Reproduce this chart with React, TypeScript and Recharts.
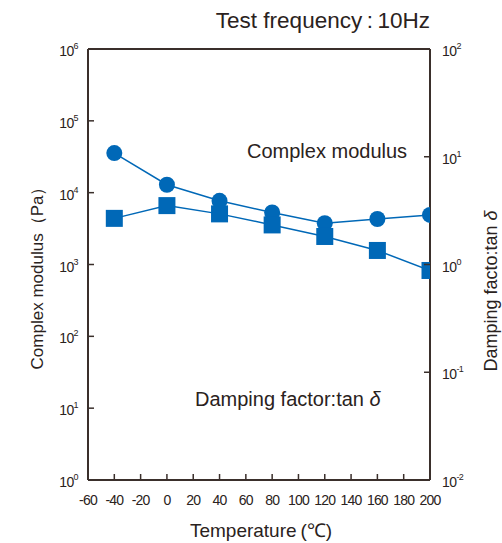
import React from 'react';
import { LineChart, Line, XAxis, YAxis, ReferenceLine } from 'recharts';

const temps = [-40, 0, 40, 80, 120, 160, 200];
const complexModulus = [35600, 12900, 7700, 5300, 3750, 4300, 4900];
const tanDelta = [2.68, 3.52, 2.95, 2.33, 1.82, 1.35, 0.88];

const xTicks = [-60, -40, -20, 0, 20, 40, 60, 80, 100, 120, 140, 160, 180, 200];
const leftTicks = [1, 10, 100, 1000, 10000, 100000, 1000000];
const rightTicks = [0.01, 0.1, 1, 10, 100];

const data = temps.map((t, i) => ({ t, modulus: complexModulus[i], tan: tanDelta[i] }));

const BLUE = '#0068b7';
const AXIS = '#3a2f2b';
const TEXT = '#2a2220';
const FONT = '"Liberation Sans", Arial, sans-serif';

const LeftTick = (props: any) => {
    const { x, y, payload } = props;
    const exp = Math.round(Math.log10(payload.value));
    return (
        <g>
            {exp > 0 && exp < 6 && <line x1={x} y1={y} x2={x + 6} y2={y} stroke={AXIS} strokeWidth={1.5} />}
            <text x={x - 10} y={y + 7} textAnchor="end" fill={TEXT} fontFamily={FONT} fontSize={14} letterSpacing={-0.6}>
                10<tspan dy={-7} fontSize={9}>{exp}</tspan>
            </text>
        </g>
    );
};

const RightTick = (props: any) => {
    const { x, y, payload } = props;
    const exp = Math.round(Math.log10(payload.value));
    return (
        <g>
            {exp > -2 && exp < 2 && <line x1={x} y1={y} x2={x - 6} y2={y} stroke={AXIS} strokeWidth={1.5} />}
            <text x={x + 12} y={y + 7} textAnchor="start" fill={TEXT} fontFamily={FONT} fontSize={14} letterSpacing={-0.6}>
                10<tspan dy={-7} fontSize={9}>{exp}</tspan>
            </text>
        </g>
    );
};

const BottomTick = (props: any) => {
    const { x, y, payload } = props;
    const v = payload.value;
    return (
        <g>
            {v > -60 && v < 200 && <line x1={x} y1={y} x2={x} y2={y - 6} stroke={AXIS} strokeWidth={1.5} />}
            <text x={x} y={y + 25} textAnchor="middle" fill={TEXT} fontFamily={FONT} fontSize={14} letterSpacing={-0.8}>
                {v}
            </text>
        </g>
    );
};

const SquareDot = (props: any) => {
    const { cx, cy, index } = props;
    if (cx == null || cy == null) return null;
    return <rect key={`sq-${index}`} x={cx - 8.5} y={cy - 8.5} width={17} height={17} fill={BLUE} />;
};

export default function App() {
    return (
        <div style={{ position: 'relative', width: 502, height: 543 }}>
            <style>{'body{margin:0;overflow:hidden}'}</style>
            <LineChart width={502} height={543} data={data} margin={{ top: 49, right: 22, left: 38, bottom: 33 }}>
                <XAxis
                    dataKey="t"
                    type="number"
                    domain={[-60, 200]}
                    ticks={xTicks}
                    interval={0}
                    height={30}
                    tickSize={0}
                    tickMargin={0}
                    tickLine={false}
                    tick={<BottomTick />}
                    axisLine={{ stroke: AXIS, strokeWidth: 2 }}
                    allowDataOverflow
                />
                <YAxis
                    yAxisId="left"
                    scale="log"
                    domain={[1, 1000000]}
                    ticks={leftTicks}
                    interval={0}
                    width={50}
                    tickSize={0}
                    tickMargin={0}
                    tickLine={false}
                    tick={<LeftTick />}
                    axisLine={{ stroke: AXIS, strokeWidth: 2 }}
                    allowDataOverflow
                />
                <YAxis
                    yAxisId="right"
                    orientation="right"
                    scale="log"
                    domain={[0.01, 100]}
                    ticks={rightTicks}
                    interval={0}
                    width={50}
                    tickSize={0}
                    tickMargin={0}
                    tickLine={false}
                    tick={<RightTick />}
                    axisLine={{ stroke: AXIS, strokeWidth: 2 }}
                    allowDataOverflow
                />
                <ReferenceLine yAxisId="left" y={1000000} stroke={AXIS} strokeWidth={2} />
                <Line
                    yAxisId="left"
                    dataKey="modulus"
                    stroke={BLUE}
                    strokeWidth={1.5}
                    dot={{ r: 8, fill: BLUE, stroke: BLUE, strokeWidth: 0 }}
                    isAnimationActive={false}
                />
                <Line
                    yAxisId="right"
                    dataKey="tan"
                    stroke={BLUE}
                    strokeWidth={1.5}
                    dot={<SquareDot />}
                    isAnimationActive={false}
                />
            </LineChart>
            <svg width={502} height={543} style={{ position: 'absolute', left: 0, top: 0, pointerEvents: 'none' }} fontFamily={FONT} fill={TEXT}>
                <text x={430} y={28} textAnchor="end" fontSize={22.5}>Test frequency{'\u2009'}:{'\u2009'}10Hz</text>
                <text x={247} y={158} fontSize={20}>Complex modulus</text>
                <text x={195} y={406} fontSize={20}>
                    Damping factor:tan <tspan fontStyle="italic">δ</tspan>
                </text>
                <text x={261} y={537} textAnchor="middle" fontSize={19}>Temperature{'\u2009'}(℃)</text>
                <text transform="translate(43, 274) rotate(-90)" textAnchor="middle" fontSize={17}>Complex modulus（Pa）</text>
                <text transform="translate(497, 291) rotate(-90)" textAnchor="middle" fontSize={18}>
                    Damping facto:tan <tspan fontStyle="italic">δ</tspan>
                </text>
            </svg>
        </div>
    );
}
